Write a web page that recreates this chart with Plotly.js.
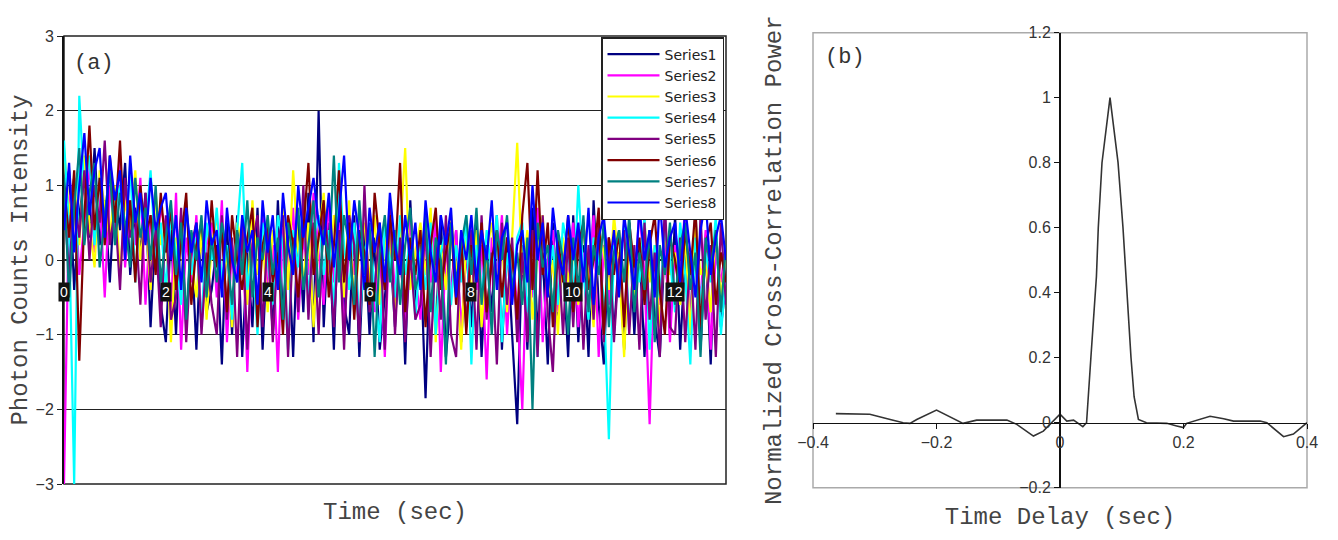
<!DOCTYPE html>
<html>
<head>
<meta charset="utf-8">
<script src="https://cdn.plot.ly/plotly-3.0.1.min.js"></script>
<style>html,body{margin:0;padding:0;background:#fff;} #chart{width:1338px;height:540px;}</style>
</head>
<body>
<div id="chart"></div>
<script>
// ---------- Panel (a): photon counts intensity, 8 series, sampled every 0.1 s ----------
const sampleStep = 0.1;
const seriesNames = ["Series1","Series2","Series3","Series4","Series5","Series6","Series7","Series8"];
const seriesColors = ["#000080","#FF00FF","#FFFF00","#00FFFF","#800080","#800000","#008080","#0000FF"];

const series1 = [0.9,1.2,-0.4,0.6,1.1,0.3,1.5,0.2,0.8,-0.3, 1.0,0.4,1.3,-0.2,0.7,0.1,0.9,-0.9,0.5,-0.6, -1.1,0.4,-1.0,0.6,-0.9,0.3,-1.2,0.5,-0.7,-0.4, 0.2,-1.4,0.5,-1.0,0.6,-1.3,0.1,-0.9,0.7,-1.2, 0.3,-1.0,0.8,-0.8,0.4,-1.3,0.6,-0.7,0.9,-1.1, 2.0,-0.9,0.5,-1.2,0.9,-0.6,-1.0,0.6,-1.3,0.4, -1.0,0.3,-1.2,-0.5,0.2,-0.9,0.5,-1.4,0.8,-0.6, 0.1,-1.85,0.3,-1.0,0.6,-1.3,-0.4,0.4,-1.1,0.2, -0.9,0.5,-1.3,0.1,-0.7,0.6,-1.2,0.3,-1.0,-2.2, 0.2,-1.2,0.7,-1.0,0.1,-1.4,0.5,-0.8,0.0,-1.3, 0.6,-1.1,0.2,-1.3,0.8,-0.6,-1.4,0.3,-1.0,0.1, -1.2,0.5,-1.0,0.2,-1.3,0.4,-0.8,-1.3,0.3,-1.0, 0.6,-1.2,0.1,-0.9,0.7,-1.2,0.2,-1.4,0.5,-0.9,-0.3];
const series2 = [-3.0,0.8,1.1,-0.2,0.5,1.3,0.1,0.9,-0.5,1.0, 0.3,1.4,-0.1,0.8,0.2,1.1,-0.6,0.6,0.0,0.7, 0.4,-0.7,0.9,-1.2,0.3,-0.3,0.6,-0.9,0.2,0.5, -0.5,0.8,-1.1,0.2,-0.2,0.5,-1.5,0.3,-0.6,0.6, -0.4,0.2,-1.5,0.5,-0.1,0.7,-0.8,0.3,-0.2,0.9, 0.1,-0.6,0.8,-0.3,0.5,-1.0,0.3,-0.2,0.6,0.0, 0.4,-0.7,0.2,-1.3,0.5,-0.4,0.1,-0.9,0.6,-0.2, -0.8,0.3,-0.3,0.6,-1.5,0.2,-0.5,0.4,-1.0,0.1, 0.5,-0.4,0.2,-1.6,0.3,-0.2,0.6,-1.0,0.1,-0.6, -2.0,0.3,-0.5,0.7,-1.1,0.0,0.4,-0.7,0.2,-0.3, 0.5,-0.9,0.1,-0.4,0.6,-1.3,0.2,-0.6,0.4,-0.1, -0.8,0.3,-0.5,0.7,-0.2,-2.2,0.1,-0.6,0.3,-1.1, 0.2,-0.4,0.8,-0.9,0.0,-0.5,0.4,-1.2,0.1,-0.3,0.2];
const series3 = [1.5,0.6,1.1,0.2,1.4,0.5,-0.1,1.2,0.7,0.3, 1.0,-0.2,0.8,0.4,1.2,0.0,0.6,-0.4,0.9,0.2, 0.5,-1.1,0.3,-0.3,0.7,0.0,-0.5,0.4,-0.8,0.2, 0.6,-0.4,0.1,-0.9,0.5,0.2,-0.6,0.8,-0.2,0.3, -0.7,0.4,0.0,0.7,-0.4,1.2,0.1,-0.3,0.5,-0.9, 0.3,0.9,-0.2,0.6,0.1,-0.5,0.8,-0.7,0.2,0.5, -0.3,0.6,-0.6,0.2,0.4,-0.8,0.3,1.5,-0.4,0.1, 0.5,-0.2,0.7,-1.1,0.2,-0.4,0.6,-0.1,-1.2,0.3, -0.5,0.4,-0.9,0.1,0.5,-0.3,0.2,-0.7,0.3,1.57, -0.2,0.4,-0.8,0.1,0.6,-0.5,0.0,-1.0,0.3,-0.3, 0.2,-0.6,0.5,-0.2,-0.9,0.4,0.1,-0.4,0.6,-0.1, -1.3,0.3,-0.5,0.0,0.5,-0.3,0.2,-0.9,0.4,-0.2, 0.1,-0.6,0.3,-1.0,0.5,-0.2,0.0,-0.7,0.4,-0.5,0.1];
const series4 = [1.6,0.4,-3.0,2.2,0.9,1.4,0.2,1.1,0.5,1.3, 0.6,1.0,0.1,1.3,-0.3,0.8,0.4,1.2,0.0,0.5, -0.4,0.6,0.1,-0.6,0.8,-0.2,0.3,-0.9,0.5,0.0, 0.7,-0.3,0.2,-0.8,0.4,1.3,-0.4,0.1,-1.0,0.5, 0.0,-0.6,0.6,0.2,-1.2,0.4,-0.1,0.8,-0.5,0.3, 0.6,-0.2,0.4,-0.7,1.3,0.2,-0.4,0.5,-0.9,0.1, 0.4,-0.3,-1.1,0.5,0.0,-0.5,0.6,-0.2,0.3,-0.8, 0.2,-0.4,0.5,-1.0,0.1,0.4,-0.6,0.2,-0.3,0.6, -1.4,0.2,-0.5,0.4,-0.2,0.6,-1.1,0.1,-0.4,0.3, 0.5,-0.7,0.0,-1.3,0.4,-0.3,0.2,-0.6,0.5,0.1, -0.5,1.0,-0.2,-0.8,0.3,0.0,-0.5,-2.4,0.2,-0.4, 0.5,-0.9,0.1,-0.3,0.6,-1.2,0.2,-0.5,0.4,0.0, -0.7,0.5,-0.2,-1.4,0.3,-0.6,0.1,-0.3,0.6,-1.0,-0.2];
const series5 = [0.8,-0.2,0.9,0.3,1.2,0.0,1.0,0.5,1.6,0.2, 0.7,-0.4,1.1,0.3,0.6,-0.6,0.9,-0.3,0.4,-0.9, 0.6,-0.8,-0.5,0.7,-1.1,0.2,0.5,-1.0,0.1,-0.6, -1.0,0.6,-0.8,0.3,-1.3,0.5,-1.2,0.2,0.6,-0.9, 0.4,-1.1,0.2,0.6,-1.3,0.3,-0.7,1.0,-0.8,0.5, -1.0,0.7,0.1,-0.9,0.4,-1.2,0.6,0.2,-1.1,1.0, -0.7,-0.4,0.5,-1.2,0.8,-1.0,0.3,-1.1,0.1,-0.8, -0.6,0.5,-1.3,0.2,-0.8,0.6,-1.0,-1.3,0.3,-0.9, 0.4,-1.2,0.6,-0.8,0.1,-1.4,0.5,-0.6,0.3,-1.1, 0.1,-1.1,0.4,-1.3,0.6,-0.7,-1.5,0.2,-1.0,0.3, -0.9,0.4,-1.2,0.2,-0.8,0.5,-1.1,0.3,-1.1,0.0, 0.4,-1.0,0.2,-1.2,0.5,-0.8,0.1,-1.3,0.8,-0.9, -1.0,0.3,-1.1,0.1,-1.2,0.6,-0.8,0.2,-1.3,0.5,-0.6];
const series6 = [1.0,0.3,1.2,-1.35,0.6,1.8,0.4,1.1,0.2,1.4, 0.5,1.6,0.1,0.8,-0.3,1.0,0.3,0.6,-0.2,0.9, 0.1,0.7,-0.4,0.3,0.9,-0.6,0.2,0.5,-0.3,0.8, -0.1,0.4,-0.7,0.6,0.0,-0.4,0.3,0.7,-0.9,0.2, 0.5,-0.3,0.1,-1.0,0.6,0.2,-0.5,0.4,1.3,-0.2, 0.3,0.8,-0.5,0.2,1.2,-0.3,0.5,-0.8,0.4,0.1, -0.6,0.9,0.2,-0.4,0.6,0.0,1.3,-0.7,0.3,-0.2, 0.4,-0.9,0.2,0.7,-0.4,0.1,0.5,-0.6,0.3,-1.0, 0.2,-0.3,0.5,-0.7,0.0,0.4,-0.5,0.3,0.1,-0.8, 0.6,1.3,-0.4,1.2,-0.2,0.5,-0.9,0.3,-0.3,0.6, -0.7,0.2,0.5,-0.4,0.0,0.7,-1.0,0.3,-0.2,0.4, -0.9,0.5,-0.1,0.3,-0.6,0.2,0.6,-0.4,-1.0,0.3, 0.0,-0.5,0.4,-0.2,0.7,-0.9,0.2,0.5,-0.6,0.1,-0.3];
const series7 = [1.1,-0.5,0.7,1.5,0.2,0.9,1.3,-0.1,0.6,1.2, 0.2,0.9,0.5,-0.1,1.1,0.3,0.7,0.0,1.0,-0.3, 0.3,0.8,-0.2,0.5,-0.8,0.4,0.0,0.6,-0.5,0.3, -0.3,0.5,0.1,-0.6,0.4,-0.2,0.8,-0.5,0.3,0.0, 0.6,-0.2,0.3,-0.8,0.5,0.0,0.7,-0.4,0.2,0.8, -0.5,0.4,0.0,1.4,-0.3,0.6,0.2,-0.6,0.8,-0.2, 0.5,-1.3,0.1,0.6,-0.3,0.4,-0.6,0.2,0.7,-0.4, -0.1,0.6,-0.7,0.3,0.0,-1.4,0.5,-0.3,0.2,0.6, -0.2,0.7,-0.6,0.2,-1.0,0.4,0.0,0.6,-0.4,0.1, -0.6,0.3,-2.0,0.5,-0.1,0.2,-0.7,0.4,0.0,-1.0, 0.3,-0.4,0.6,-0.7,0.2,-0.2,0.5,-0.9,0.1,0.4, -0.3,0.6,-0.7,0.1,-0.4,0.4,-1.1,0.2,-0.2,0.5, -0.6,0.2,0.5,-0.4,0.1,-1.3,0.3,-0.1,0.4,-0.7,0.2];
const series8 = [0.4,1.3,0.1,1.0,1.7,0.6,1.2,1.5,0.3,1.4, 0.8,1.2,0.0,1.4,0.5,0.9,0.2,1.1,0.4,0.7, 0.9,0.0,0.6,-0.4,0.7,0.1,0.5,-0.3,0.8,0.2, 0.4,-0.5,0.7,0.0,-0.3,0.6,0.1,0.4,-0.6,0.8, 0.1,0.6,-0.4,0.9,0.2,-0.2,1.0,0.3,0.7,1.1, 0.5,0.2,0.9,-0.1,0.6,1.4,0.0,0.8,0.3,-0.4, 0.7,0.1,0.5,-0.3,0.9,0.2,-0.2,0.6,0.0,0.5, -0.4,0.8,0.1,-0.3,0.6,0.2,0.7,-0.5,0.4,0.0, 0.6,-0.3,0.4,0.0,0.8,-0.4,0.3,0.5,-0.6,0.2, 0.4,-0.3,1.0,0.0,0.5,-0.5,0.7,0.1,-0.2,0.6, 0.0,0.5,-0.3,0.7,-0.6,0.3,0.6,-0.2,0.4,-0.5, 0.6,0.1,-0.4,0.7,0.0,0.4,-0.5,0.8,-0.1,0.3, 0.5,-0.3,0.7,0.1,-0.5,0.4,0.8,-0.2,0.3,0.6,0.0];
const seriesValues = [series1,series2,series3,series4,series5,series6,series7,series8];

const timeTickVals = [0,2,4,6,8,10,12];
const timeTickText = ["0","2","4","6","8","10","12"];
const intensityTicks = [-3,-2,-1,0,1,2,3];

// ---------- Panel (b): normalized cross-correlation ----------
const delayVals = [-0.363,-0.308,-0.275,-0.254,-0.243,-0.232,-0.2,-0.167,-0.157,-0.135,-0.086,-0.07,-0.043,-0.027,0,0.011,0.022,0.037,0.043,0.05,0.059,0.062,0.068,0.081,0.094,0.102,0.108,0.115,0.12,0.127,0.14,0.173,0.189,0.2,0.205,0.221,0.243,0.265,0.281,0.324,0.335,0.362,0.378,0.4];
const corrVals  = [0.028,0.026,0.010,0,-0.002,0.01,0.039,0.008,-0.002,0.008,0.008,-0.005,-0.041,-0.026,0.026,0.005,0.008,-0.012,0,0.2,0.45,0.6,0.8,1.0,0.8,0.6,0.4,0.2,0.08,0.01,0,-0.002,-0.01,-0.015,-0.002,0.008,0.02,0.012,0.005,0.005,0,-0.043,-0.035,0];

// ---------- layout geometry ----------
const W = 1338, H = 540;
const domAx = [64/W, 726/W], domAy = [(H-484)/H, (H-36)/H];
const domBx = [813/W, 1307/W], domBy = [(H-487.7)/H, (H-32.7)/H];
const rangeBx = [-0.4, 0.4], rangeBy = [-0.2, 1.2];
const posBxAxis = domBy[0] + (0 - rangeBy[0])/(rangeBy[1]-rangeBy[0])*(domBy[1]-domBy[0]);
const posByAxis = domBx[0] + (0 - rangeBx[0])/(rangeBx[1]-rangeBx[0])*(domBx[1]-domBx[0]);

const mono = "Liberation Mono, Courier New, monospace";
const sans = "Liberation Sans, Arial, sans-serif";

const traces = seriesValues.map((vals, i) => ({
  type: "scatter", mode: "lines", name: seriesNames[i],
  x: vals.map((_, k) => +(k*sampleStep).toFixed(2)), y: vals,
  line: {color: seriesColors[i], width: 2.2},
  xaxis: "x", yaxis: "y", hoverinfo: "skip"
}));
traces.push({
  type: "scatter", mode: "lines", name: "Correlation", showlegend: false,
  x: delayVals, y: corrVals, line: {color: "#333", width: 1.6},
  xaxis: "x2", yaxis: "y2"
});

const annotations = timeTickVals.map((v, i) => ({
  x: v, y: 0, xref: "x", yref: "y", text: timeTickText[i], showarrow: false,
  yshift: -32, font: {family: sans, size: 14, color: "#fff"},
  bgcolor: "#111", borderpad: 1
}));
annotations.push({x: 72/W, y: (H-64)/H, xref: "paper", yref: "paper", xanchor: "left", yanchor: "middle",
  text: "(a)", showarrow: false, font: {family: mono, size: 22, color: "#333"}});
annotations.push({x: 823/W, y: (H-58)/H, xref: "paper", yref: "paper", xanchor: "left", yanchor: "middle",
  text: "(b)", showarrow: false, font: {family: mono, size: 22, color: "#333"}});

const layout = {
  width: W, height: H, margin: {l: 0, r: 0, t: 0, b: 0},
  paper_bgcolor: "#fff", plot_bgcolor: "rgba(0,0,0,0)",
  showlegend: true,
  legend: {x: 601/W, y: (H-37)/H, xanchor: "left", yanchor: "top", bgcolor: "#fff",
    bordercolor: "#222", borderwidth: 1.5, font: {family: "DejaVu Sans, sans-serif", size: 14, color: "#222"},
    tracegroupgap: 0, itemwidth: 52},
  xaxis: {domain: domAx, range: [0, 13], anchor: "y", showgrid: false, zeroline: false,
    showline: false, showticklabels: false, ticks: "", tickvals: timeTickVals,
    title: {text: "Time (sec)", font: {family: mono, size: 24, color: "#444"}, standoff: 18}},
  yaxis: {domain: domAy, range: [-3, 3], anchor: "x", tickvals: intensityTicks,
    showgrid: true, gridcolor: "#222", gridwidth: 1.5, zeroline: true, zerolinecolor: "#222", zerolinewidth: 1.5,
    showline: true, linecolor: "#111", linewidth: 2, ticks: "outside", ticklen: 5, tickcolor: "#222",
    tickfont: {family: sans, size: 16, color: "#333"},
    title: {text: "Photon Counts Intensity", font: {family: mono, size: 24, color: "#444"}, standoff: 1}},
  xaxis2: {domain: domBx, range: rangeBx, anchor: "free", position: posBxAxis, dtick: 0.2, tick0: 0,
    showgrid: false, zeroline: false, showline: true, linecolor: "#111", linewidth: 1.5,
    ticks: "outside", ticklen: 5, tickcolor: "#111",
    tickfont: {family: sans, size: 16, color: "#333"},
    title: {text: "Time Delay (sec)", font: {family: mono, size: 24, color: "#444"}, standoff: 57}},
  yaxis2: {domain: domBy, range: rangeBy, anchor: "free", position: posByAxis, dtick: 0.2, tick0: 0,
    showgrid: false, zeroline: false, showline: true, linecolor: "#111", linewidth: 2,
    ticks: "outside", ticklen: 5, tickcolor: "#111",
    tickfont: {family: sans, size: 16, color: "#333"},
    title: {text: "Normalized Cross-Correlation Power", font: {family: mono, size: 24, color: "#444"}, standoff: 230}},
  shapes: [
    {type: "rect", xref: "x domain", yref: "y domain", x0: 0, x1: 1, y0: 0, y1: 1,
     line: {color: "#222", width: 1.5}, layer: "below"},
    {type: "rect", xref: "x2 domain", yref: "y2 domain", x0: 0, x1: 1, y0: 0, y1: 1,
     line: {color: "#aaa", width: 1.5}, layer: "below"}
  ],
  annotations: annotations
};

Plotly.newPlot("chart", traces, layout, {displayModeBar: false, staticPlot: true});
</script>
</body>
</html>
